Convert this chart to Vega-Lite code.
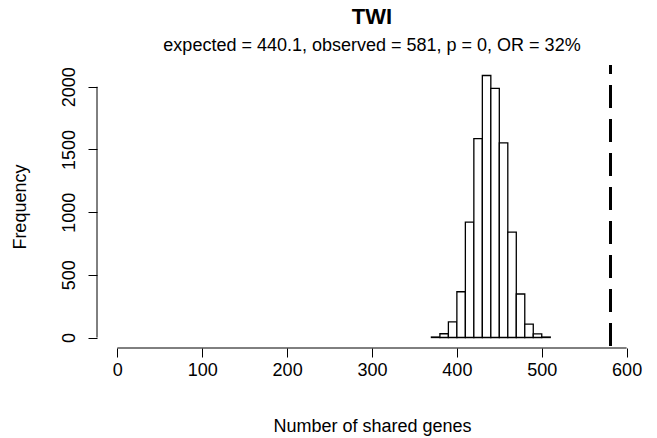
{
  "$schema": "https://vega.github.io/schema/vega-lite/v6.json",
  "width": 550,
  "height": 283,
  "autosize": {"type": "none"},
  "padding": {"left": 97, "top": 65, "right": 10, "bottom": 90},
  "background": "white",
  "config": {"view": {"stroke": null}, "font": "Liberation Sans"},
  "title": {
    "text": "TWI",
    "subtitle": "expected = 440.1, observed = 581, p = 0, OR = 32%",
    "font": "Liberation Sans",
    "subtitleFont": "Liberation Sans",
    "fontSize": 22,
    "fontWeight": "bold",
    "subtitleFontSize": 18,
    "color": "black",
    "subtitleColor": "black",
    "anchor": "middle",
    "frame": "group",
    "offset": 8,
    "subtitlePadding": 8
  },
  "layer": [
    {
      "data": {
        "values": [
          {"bin_start": 370, "bin_end": 380, "count": 4},
          {"bin_start": 380, "bin_end": 390, "count": 30},
          {"bin_start": 390, "bin_end": 400, "count": 125},
          {"bin_start": 400, "bin_end": 410, "count": 365},
          {"bin_start": 410, "bin_end": 420, "count": 920},
          {"bin_start": 420, "bin_end": 430, "count": 1587},
          {"bin_start": 430, "bin_end": 440, "count": 2090},
          {"bin_start": 440, "bin_end": 450, "count": 1987},
          {"bin_start": 450, "bin_end": 460, "count": 1552},
          {"bin_start": 460, "bin_end": 470, "count": 840},
          {"bin_start": 470, "bin_end": 480, "count": 347},
          {"bin_start": 480, "bin_end": 490, "count": 107},
          {"bin_start": 490, "bin_end": 500, "count": 29},
          {"bin_start": 500, "bin_end": 510, "count": 4}
        ]
      },
      "mark": {"type": "rect", "fill": "white", "stroke": "black", "strokeWidth": 1.3},
      "encoding": {
        "x": {
          "field": "bin_start",
          "type": "quantitative",
          "scale": {"domain": [-24, 624], "nice": false, "zero": false},
          "axis": {
            "values": [0, 100, 200, 300, 400, 500, 600],
            "format": "d",
            "domain": false,
            "grid": false,
            "tickSize": 9,
            "tickColor": "black",
            "tickWidth": 1,
            "labelFontSize": 18,
            "labelColor": "black",
            "labelPadding": 4,
            "labelFlush": false,
            "labelOverlap": false,
            "title": "Number of shared genes",
            "titleFontSize": 18,
            "titleFontWeight": "normal",
            "titleColor": "black",
            "titleBaseline": "alphabetic",
            "titleY": 83,
            "titleX": 275
          }
        },
        "x2": {"field": "bin_end"},
        "y": {
          "field": "count",
          "type": "quantitative",
          "scale": {"domain": [-83.6, 2173.6], "nice": false, "zero": false},
          "axis": {
            "values": [0, 500, 1000, 1500, 2000],
            "format": "d",
            "domain": false,
            "grid": false,
            "tickSize": 9,
            "tickColor": "black",
            "tickWidth": 1,
            "labelFontSize": 18,
            "labelColor": "black",
            "labelAngle": -90,
            "labelAlign": "center",
            "labelBaseline": "bottom",
            "labelPadding": 10,
            "labelOverlap": false,
            "labelFlush": false,
            "title": "Frequency",
            "titleFontSize": 18,
            "titleFontWeight": "normal",
            "titleColor": "black",
            "titleAngle": -90,
            "titleAlign": "center",
            "titleBaseline": "middle",
            "titleX": -77,
            "titleY": 141.6
          }
        },
        "y2": {"datum": 0}
      }
    },
    {
      "data": {"values": [{"observed": 581}]},
      "mark": {"type": "rule", "color": "black", "strokeWidth": 3, "strokeDash": [23, 11], "strokeDashOffset": 14},
      "encoding": {"x": {"field": "observed", "type": "quantitative"}}
    },
    {
      "data": {"values": [{"from": 0, "to": 600}]},
      "mark": {"type": "rule", "color": "black", "strokeWidth": 1},
      "encoding": {
        "x": {"field": "from", "type": "quantitative"},
        "x2": {"field": "to"},
        "y": {"datum": -83.6}
      }
    },
    {
      "data": {"values": [{"from": 0, "to": 2000}]},
      "mark": {"type": "rule", "color": "black", "strokeWidth": 1},
      "encoding": {
        "y": {"field": "from", "type": "quantitative"},
        "y2": {"field": "to"},
        "x": {"datum": -24}
      }
    }
  ]
}
